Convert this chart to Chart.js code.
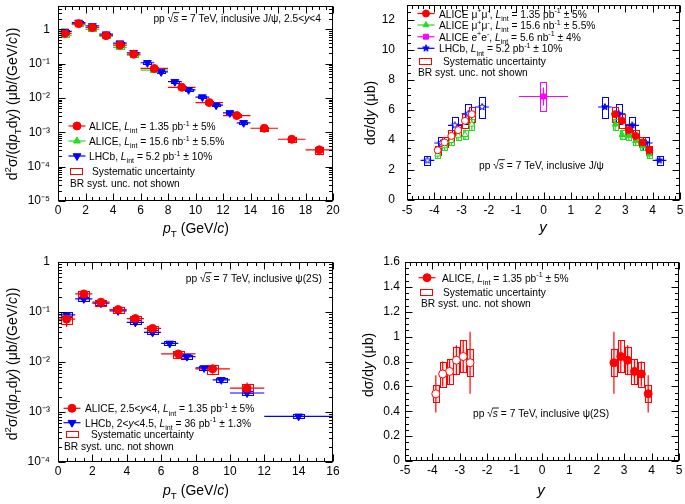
<!DOCTYPE html>
<html><head><meta charset="utf-8">
<script src="https://cdn.jsdelivr.net/npm/chart.js@4.4.1/dist/chart.umd.min.js"></script>
<style>
html,body{margin:0;padding:0;background:#fff;width:685px;height:504px;overflow:hidden}
canvas{position:absolute}
</style></head><body>
<canvas id="c1" width="342" height="252" style="left:0;top:0;width:342px;height:252px"></canvas>
<canvas id="c2" width="343" height="252" style="left:342px;top:0;width:343px;height:252px"></canvas>
<canvas id="c3" width="342" height="252" style="left:0;top:252px;width:342px;height:252px"></canvas>
<canvas id="c4" width="343" height="252" style="left:342px;top:252px;width:343px;height:252px"></canvas>
<script>
// ================= DATA =================
// Panel 1: inclusive J/psi, d2sigma/dpTdy, 2.5<y<4
const p1TicksX = [0,2,4,6,8,10,12,14,16,18,20];
const p1TicksY = [1e-5,1e-4,1e-3,1e-2,1e-1,1];
const p1AliceX = [0.5,1.5,2.5,3.5,4.5,5.5,7,9,11,13,15,17,19];
const p1AliceXErr = [0.5,0.5,0.5,0.5,0.5,0.5,1,1,1,1,1,1,1];
const p1AliceY = [0.77,1.48,1.14,0.66,0.35,0.19,0.073,0.0206,0.0074,0.0031,0.00132,0.00063,0.00031];
const p1AliceStat = [0.03,0.02,0.02,0.02,0.03,0.03,0.04,0.05,0.06,0.08,0.1,0.15,0.3];
const p1AliceSys = [0.08,0.08,0.08,0.08,0.08,0.08,0.08,0.09,0.1,0.1,0.12,0.15,0.22];
const p1LowX = [0.5,1.5,2.5,3.5,4.5,5.5,7];
const p1LowXErr = [0.5,0.5,0.5,0.5,0.5,0.5,1];
const p1LowY = [0.67,1.39,1.0,0.64,0.30,0.18,0.065];
const p1LowStat = [0.08,0.06,0.06,0.07,0.08,0.1,0.12];
const p1LowSys = [0.09,0.09,0.09,0.09,0.09,0.09,0.1];
const p1LhcbX = [0.5,1.5,2.5,3.5,4.5,5.5,6.5,7.5,8.5,9.5,10.5,11.5,12.5,13.5];
const p1LhcbXErr = [0.5,0.5,0.5,0.5,0.5,0.5,0.5,0.5,0.5,0.5,0.5,0.5,0.5,0.5];
const p1LhcbY = [0.88,1.6,1.27,0.73,0.40,0.21,0.107,0.058,0.030,0.0174,0.0107,0.0062,0.0037,0.0019];
const p1LhcbStat = [0.02,0.02,0.02,0.02,0.02,0.02,0.03,0.03,0.04,0.05,0.06,0.07,0.08,0.1];
const p1LhcbSys = [0.08,0.08,0.08,0.08,0.08,0.08,0.08,0.08,0.08,0.08,0.08,0.08,0.08,0.08];

// Panel 2: inclusive J/psi, dsigma/dy
const p2TicksX = [-5,-4,-3,-2,-1,0,1,2,3,4,5];
const p2TicksY = [0,2,4,6,8,10,12];
const p2AliceX = [2.625,2.875,3.125,3.375,3.625,3.875];
const p2AliceY = [5.72,5.28,4.66,4.27,3.84,3.32];
const p2AliceStat = [0.12,0.1,0.09,0.08,0.08,0.09];
const p2AliceSys = [0.5,0.46,0.4,0.37,0.33,0.29];
const p2LowX = [2.625,2.875,3.125,3.375,3.625,3.875];
const p2LowY = [5.05,4.35,4.3,3.95,3.6,3.05];
const p2LowStat = [0.4,0.35,0.3,0.3,0.3,0.3];
const p2LowSys = [0.35,0.3,0.3,0.28,0.25,0.22];
const p2EeX = [0];
const p2EeY = [6.9];
const p2EeStat = [0.6];
const p2EeSys = [0.95];
const p2LhcbX = [2.25,2.75,3.25,3.75,4.25];
const p2LhcbY = [6.2,5.75,4.98,3.8,2.64];
const p2LhcbStat = [0.05,0.05,0.05,0.05,0.05];
const p2LhcbSys = [0.7,0.65,0.55,0.42,0.3];

// Panel 3: inclusive psi(2S), d2sigma/dpTdy
const p3TicksX = [0,2,4,6,8,10,12,14,16];
const p3TicksY = [1e-4,1e-3,1e-2,1e-1,1];
const p3AliceX = [0.5,1.5,2.5,3.5,4.5,5.5,7,9,11];
const p3AliceXErr = [0.5,0.5,0.5,0.5,0.5,0.5,1,1,1];
const p3AliceY = [0.072,0.23,0.157,0.112,0.074,0.047,0.0145,0.0073,0.0030];
const p3AliceStat = [0.3,0.12,0.08,0.08,0.08,0.1,0.18,0.2,0.3];
const p3AliceSys = [0.18,0.15,0.13,0.13,0.13,0.13,0.15,0.2,0.2];
const p3LhcbX = [0.5,1.5,2.5,3.5,4.5,5.5,6.5,7.5,8.5,9.5,11,14];
const p3LhcbXErr = [0.5,0.5,0.5,0.5,0.5,0.5,0.5,0.5,0.5,0.5,1,2];
const p3LhcbY = [0.088,0.183,0.15,0.105,0.062,0.039,0.0235,0.0128,0.0076,0.0044,0.0024,0.00082];
const p3LhcbStat = [0.05,0.03,0.03,0.03,0.03,0.04,0.04,0.05,0.05,0.06,0.08,0.1];
const p3LhcbSys = [0.12,0.1,0.1,0.1,0.1,0.1,0.1,0.1,0.1,0.1,0.1,0.1];

// Panel 4: inclusive psi(2S), dsigma/dy
const p4TicksX = [-5,-4,-3,-2,-1,0,1,2,3,4,5];
const p4TicksY = [0,0.2,0.4,0.6,0.8,1,1.2,1.4,1.6];
const p4AliceX = [2.625,2.875,3.125,3.375,3.625,3.875];
const p4AliceY = [0.79,0.84,0.81,0.72,0.70,0.54];
const p4AliceStat = [0.25,0.13,0.12,0.1,0.1,0.15];
const p4AliceSys = [0.11,0.13,0.11,0.1,0.1,0.07];

// ================= HELPERS =================
const FONT = "'Liberation Sans', Arial, Helvetica, sans-serif";
const RED='#ff0000', GREEN='#22dd22', BLUE='#0000ff', MAG='#ff00ff';
const SUP = {'-':'\u207B','0':'\u2070','1':'\u00B9','2':'\u00B2','3':'\u00B3','4':'\u2074','5':'\u2075','6':'\u2076','7':'\u2077','8':'\u2078','9':'\u2079'};
function logLabel(v){ const e=Math.round(Math.log10(v)); if(e===0) return '1'; if(e===1) return '10'; return '10'+String(e).split('').map(c=>SUP[c]).join(''); }
function linLabel(v){ return String(v); }

function starImg(r, fill, stroke){
  const c=document.createElement('canvas'); const s=Math.ceil(2*r+3); c.width=s; c.height=s;
  const g=c.getContext('2d'); g.beginPath();
  for(let i=0;i<10;i++){ const ang=-Math.PI/2+i*Math.PI/5; const rr=(i%2)?r*0.45:r; g.lineTo(s/2+rr*Math.cos(ang), s/2+rr*Math.sin(ang)); }
  g.closePath(); g.fillStyle=fill; g.fill(); g.strokeStyle=stroke; g.lineWidth=1; g.stroke();
  return c;
}

function series(xs, ys, o){
  return Object.assign({type:'scatter', data: xs.map((x,i)=>({x:x, y:ys[i]})), showLine:false, pointBorderWidth:1}, o);
}
function mirror(a){ return a.map(v=>-v); }

function parseRich(s){
  const segs=[]; let it=false; let cur='';
  const push=(t,mode,ital,ov)=>{ if(t) segs.push({t:t,mode:mode,it:ital,ov:ov}); };
  for(let i=0;i<s.length;i++){
    const c=s[i];
    if(c==='$'){ push(cur,'n',it); cur=''; it=!it; continue; }
    if((c==='_'||c==='^'||c==='!') && s[i+1]==='{'){
      push(cur,'n',it); cur='';
      const j=s.indexOf('}',i+2); const t=s.slice(i+2,j);
      if(c==='!') push(t,'n',true,true); else push(t,c==='_'?'sub':'sup',false);
      i=j; continue;
    }
    cur+=c;
  }
  push(cur,'n',it);
  return segs;
}
function rfont(g,size){ const sz=g.mode==='n'?size:size*0.7; return (g.it?'italic ':'')+sz.toFixed(1)+'px '+FONT; }
function drawRich(ctx,str,x,y,size,align,sx){
  sx = sx || 1;
  const segs=parseRich(str); ctx.save(); ctx.fillStyle='#000'; ctx.textBaseline='alphabetic'; ctx.textAlign='left';
  let w=0; for(const g of segs){ ctx.font=rfont(g,size); w+=ctx.measureText(g.t).width; }
  w*=sx;
  let x0 = align==='center'? x-w/2 : (align==='right'? x-w : x);
  ctx.translate(x0,y); ctx.scale(sx,1);
  let cx=0;
  const base=size*0.36;
  for(const g of segs){
    ctx.font=rfont(g,size);
    const dy = g.mode==='sub'? size*0.28 : (g.mode==='sup'? -size*0.4 : 0);
    ctx.fillText(g.t,cx,base+dy);
    const gw=ctx.measureText(g.t).width;
    if(g.ov){ ctx.fillRect(cx-0.5, base-size*0.86, gw+1.5, 0.9); }
    cx+=gw;
  }
  ctx.restore();
}
const TS=11.5, TSX=0.89;

// ================= PANEL DECORATION CONFIG (page coordinates) =================
const PANELS = {
  c1:{ ox:0, oy:0, xMin:0, xMax:20, xMajor:2, xMinor:0.5, yLog:true,
    texts:[{t:'pp \u221A!{s} = 7 TeV, inclusive J/\u03C8, 2.5<$y$<4', x:321, y:18, a:'right'},
           {t:'BR syst. unc. not shown', x:70, y:183, a:'left'}],
    legend:[{ds:0, x:77, y:126, t:'ALICE, $L$_{int} = 1.35 pb^{-1} \u00B1 5%', tx:89},
            {ds:1, x:77, y:141, t:'ALICE, $L$_{int} = 15.6 nb^{-1} \u00B1 5.5%', tx:89},
            {ds:2, x:77, y:156, t:'LHCb, $L$_{int} = 5.2 pb^{-1} \u00B1 10%', tx:89},
            {box:RED, x:76, y:171, t:'Systematic uncertainty', tx:92}],
    xTitle:{t:'$p$_{T} (GeV/$c$)', x:196, y:228, s:14},
    yTitle:{t:'d^{2}\u03C3/(d$p$_{T}dy) (\u03BCb/(GeV/$c$))', x:12, y:104, s:14} },
  c2:{ ox:342, oy:0, xMin:-5, xMax:5, xMajor:1, xMinor:0.2, yMin:0, yMax:13, yMajor:2, yMinor:0.5,
    texts:[{t:'pp \u221A!{s} = 7 TeV, inclusive J/\u03C8', x:479, y:165, a:'left'},
           {t:'BR syst. unc. not shown', x:418, y:72, a:'left'}],
    legend:[{ds:0, x:426, y:13.5, t:'ALICE \u03BC^{+}\u03BC^{-}, $L$_{int} = 1.35 pb^{-1} \u00B1 5%', tx:439},
            {ds:2, x:426, y:25, t:'ALICE \u03BC^{+}\u03BC^{-}, $L$_{int} = 15.6 nb^{-1} \u00B1 5.5%', tx:439},
            {ds:4, x:426, y:36.7, t:'ALICE e^{+}e^{-}, $L$_{int} = 5.6 nb^{-1} \u00B1 4%', tx:439},
            {ds:5, x:426, y:48.3, t:'LHCb, $L$_{int} = 5.2 pb^{-1} \u00B1 10%', tx:439},
            {box:RED, x:425, y:61, t:'Systematic uncertainty', tx:443}],
    xTitle:{t:'$y$', x:543, y:227, s:15},
    yTitle:{t:'d\u03C3/d$y$ (\u03BCb)', x:370, y:113, s:14} },
  c3:{ ox:0, oy:252, xMin:0, xMax:16, xMajor:2, xMinor:0.5, yLog:true,
    texts:[{t:'pp \u221A!{s} = 7 TeV, inclusive \u03C8(2S)', x:322, y:278, a:'right'},
           {t:'BR syst. unc. not shown', x:64, y:446, a:'left'}],
    legend:[{ds:0, x:72, y:408.3, t:'ALICE, 2.5<$y$<4, $L$_{int} = 1.35 pb^{-1} \u00B1 5%', tx:85},
            {ds:1, x:72, y:422.7, t:'LHCb, 2<$y$<4.5, $L$_{int} = 36 pb^{-1} \u00B1 1.3%', tx:85},
            {box:RED, x:72, y:434.3, t:'Systematic uncertainty', tx:91}],
    xTitle:{t:'$p$_{T} (GeV/$c$)', x:196, y:490, s:14},
    yTitle:{t:'d^{2}\u03C3/(d$p$_{T}d$y$) (\u03BCb/(GeV/$c$))', x:12, y:364, s:14} },
  c4:{ ox:342, oy:252, xMin:-5, xMax:5, xMajor:1, xMinor:0.2, yMin:0, yMax:1.6, yMajor:0.2, yMinor:0.05,
    texts:[{t:'pp \u221A!{s} = 7 TeV, inclusive \u03C8(2S)', x:473, y:413.3, a:'left'},
           {t:'BR syst. unc. not shown', x:421, y:303.3, a:'left'}],
    legend:[{ds:0, x:427, y:277.7, t:'ALICE, $L$_{int} = 1.35 pb^{-1} \u00B1 5%', tx:442},
            {box:RED, x:426, y:291.7, t:'Systematic uncertainty', tx:443}],
    xTitle:{t:'$y$', x:541, y:490, s:15},
    yTitle:{t:'d\u03C3/d$y$ (\u03BCb)', x:368, y:365, s:14} }
};

// ================= PLUGIN =================
function drawErrors(chart){
  const ctx=chart.ctx, xs=chart.scales.x, ys=chart.scales.y, a=chart.chartArea;
  const dsets=chart.data.datasets;
  ctx.save(); ctx.beginPath(); ctx.rect(a.left,a.top,a.right-a.left,a.bottom-a.top); ctx.clip();
  ctx.lineWidth=1;
  for(let k=dsets.length-1;k>=0;k--){
    const ds=dsets[k]; if(!ds.sys) continue; const col=ds.errColor;
    ds.data.forEach((p,i)=>{
      const s=ds.sys[i];
      const lo=ds.rel? p.y*(1-s) : p.y-s, hi=ds.rel? p.y*(1+s) : p.y+s;
      const x0=xs.getPixelForValue(p.x-ds.boxW), x1=xs.getPixelForValue(p.x+ds.boxW);
      const y0=ys.getPixelForValue(hi), y1=ys.getPixelForValue(lo);
      if(ds.boxFill){ ctx.fillStyle=ds.boxFill; ctx.fillRect(x0,y0,x1-x0,y1-y0); }
      ctx.strokeStyle=col; ctx.strokeRect(Math.round(x0)+0.5,Math.round(y0)+0.5,Math.round(x1-x0),Math.round(y1-y0));
    });
  }
  for(let k=dsets.length-1;k>=0;k--){
    const ds=dsets[k]; const col=ds.errColor;
    ctx.strokeStyle=col; ctx.lineWidth=1.2;
    ds.data.forEach((p,i)=>{
      const px=xs.getPixelForValue(p.x), py=ys.getPixelForValue(p.y);
      ctx.beginPath();
      if(ds.xErr){ const e=ds.xErr[i]; ctx.moveTo(xs.getPixelForValue(p.x-e),py); ctx.lineTo(xs.getPixelForValue(p.x+e),py); }
      if(ds.stat){ const s=ds.stat[i]; const lo=ds.rel? p.y*(1-s) : p.y-s, hi=ds.rel? p.y*(1+s) : p.y+s;
        ctx.moveTo(px,ys.getPixelForValue(lo)); ctx.lineTo(px,ys.getPixelForValue(hi)); }
      ctx.stroke();
    });
  }
  ctx.restore();
}
function drawDeco(chart,P){
  const ctx=chart.ctx, a=chart.chartArea, xs=chart.scales.x, ys=chart.scales.y;
  ctx.save();
  ctx.strokeStyle='#000'; ctx.lineWidth=1;
  const L=Math.round(a.left)+0.5, R=Math.round(a.right)-0.5, T=Math.round(a.top)+0.5, B=Math.round(a.bottom)-0.5;
  ctx.strokeRect(L,T,R-L,B-T);
  const seg=(x0,y0,x1,y1)=>{ ctx.beginPath(); ctx.moveTo(x0,y0); ctx.lineTo(x1,y1); ctx.stroke(); };
  const xt=(v,len)=>{ const p=Math.round(xs.getPixelForValue(v))+0.5; seg(p,B,p,B-len); seg(p,T,p,T+len); };
  const yt=(v,len)=>{ const p=Math.round(ys.getPixelForValue(v))+0.5; seg(L,p,L+len,p); seg(R,p,R-len,p); };
  const nx=Math.round((P.xMax-P.xMin)/P.xMinor);
  for(let i=0;i<=nx;i++){ const v=P.xMin+i*P.xMinor; const r=v/P.xMajor; xt(v, Math.abs(r-Math.round(r))<1e-6?7:3.5); }
  if(P.yLog){
    const e0=Math.floor(Math.log10(ys.min)), e1=Math.ceil(Math.log10(ys.max));
    for(let e=e0;e<=e1;e++) for(let k=1;k<10;k++){ const v=k*Math.pow(10,e); if(v<ys.min*0.999||v>ys.max*1.001) continue; yt(v,k===1?7:3.5); }
  } else {
    const ny=Math.round((P.yMax-P.yMin)/P.yMinor);
    for(let i=0;i<=ny;i++){ const v=P.yMin+i*P.yMinor; const r=v/P.yMajor; yt(v, Math.abs(r-Math.round(r))<1e-6?7:3.5); }
  }
  ctx.translate(-P.ox,-P.oy);
  for(const t of P.texts) drawRich(ctx,t.t,t.x,t.y,TS,t.a,TSX);
  for(const g of P.legend){
    if(g.box){
      ctx.strokeStyle=g.box; ctx.lineWidth=1; ctx.strokeRect(Math.round(g.x-6)+0.5,Math.round(g.y-3)+0.5,12,6);
    } else {
      const ds=chart.data.datasets[g.ds];
      ctx.strokeStyle=ds.errColor; ctx.lineWidth=1.2; seg(g.x-8.5,g.y,g.x+8.5,g.y);
      ctx.fillStyle=ds.backgroundColor; ctx.strokeStyle=ds.borderColor; ctx.lineWidth=1;
      Chart.helpers.drawPoint(ctx,{pointStyle:ds.pointStyle, rotation:ds.rotation||0, radius:ds.pointRadius, borderWidth:1}, g.x, g.y);
    }
    drawRich(ctx,g.t,g.tx,g.y,TS,'left',TSX);
  }
  drawRich(ctx,P.xTitle.t,P.xTitle.x,P.xTitle.y,P.xTitle.s,'center');
  ctx.save(); ctx.translate(P.yTitle.x,P.yTitle.y); ctx.rotate(-Math.PI/2);
  drawRich(ctx,P.yTitle.t,0,0,P.yTitle.s,'center'); ctx.restore();
  ctx.restore();
}
Chart.register({ id:'rootDeco',
  beforeDatasetsDraw(chart){ drawErrors(chart); },
  afterDraw(chart){ drawDeco(chart, PANELS[chart.canvas.id]); } });

function axis(type,min,max,ticks,fmt,pad,fixed,isX){
  return { type:type, min:min, max:max,
    grid:{display:false, drawTicks:false}, border:{display:false},
    ticks:{color:'#000', font:{family:FONT,size:12}, padding:pad, autoSkip:false, maxRotation:0, minRotation:0, callback:(v)=>fmt(v)},
    afterBuildTicks:(s)=>{ s.ticks=ticks.map(v=>({value:v})); },
    afterFit:(s)=>{ if(isX){ s.height=fixed; s.paddingLeft=0; s.paddingRight=0; } else { s.width=fixed; s.paddingTop=0; s.paddingBottom=0; } } };
}
function makeChart(id,datasets,xAx,yAx,pad){
  return new Chart(document.getElementById(id),{ type:'scatter', data:{datasets:datasets},
    options:{ responsive:false, animation:false, devicePixelRatio:1,
      layout:{padding:pad},
      plugins:{legend:{display:false}, tooltip:{enabled:false}},
      scales:{x:xAx, y:yAx} } });
}

// ================= CHARTS =================
const openW='#ffffff';
makeChart('c1',[
  series(p1AliceX,p1AliceY,{pointStyle:'circle',pointRadius:4,backgroundColor:RED,borderColor:RED,errColor:RED,xErr:p1AliceXErr,stat:p1AliceStat,sys:p1AliceSys,rel:true,boxW:0.3}),
  series(p1LowX,p1LowY,{pointStyle:'triangle',pointRadius:4,backgroundColor:GREEN,borderColor:GREEN,errColor:GREEN,xErr:p1LowXErr,stat:p1LowStat,sys:p1LowSys,rel:true,boxW:0.3}),
  series(p1LhcbX,p1LhcbY,{pointStyle:'triangle',rotation:180,pointRadius:4.5,backgroundColor:BLUE,borderColor:BLUE,errColor:BLUE,xErr:p1LhcbXErr,stat:p1LhcbStat,sys:p1LhcbSys,rel:true,boxW:0.3})
 ],
 axis('linear',0,20,p1TicksX,linLabel,2,51,true),
 axis('logarithmic',1e-5,5,p1TicksY,logLabel,8,58,false),
 {left:0,right:9,top:2,bottom:0});

makeChart('c2',[
  series(p2AliceX,p2AliceY,{pointStyle:'circle',pointRadius:3.5,backgroundColor:RED,borderColor:RED,errColor:RED,stat:p2AliceStat,sys:p2AliceSys,boxW:0.11}),
  series(mirror(p2AliceX),p2AliceY,{pointStyle:'circle',pointRadius:3.5,backgroundColor:openW,borderColor:RED,errColor:RED,stat:p2AliceStat,sys:p2AliceSys,boxW:0.11}),
  series(p2LowX,p2LowY,{pointStyle:'triangle',pointRadius:3.5,backgroundColor:GREEN,borderColor:GREEN,errColor:GREEN,stat:p2LowStat,sys:p2LowSys,boxW:0.09}),
  series(mirror(p2LowX),p2LowY,{pointStyle:'triangle',pointRadius:3.5,backgroundColor:openW,borderColor:GREEN,errColor:GREEN,stat:p2LowStat,sys:p2LowSys,boxW:0.09}),
  series(p2EeX,p2EeY,{pointStyle:'rect',pointRadius:3.5,backgroundColor:MAG,borderColor:MAG,errColor:MAG,xErr:[0.9],stat:p2EeStat,sys:p2EeSys,boxW:0.11}),
  series(p2LhcbX,p2LhcbY,{pointStyle:starImg(3.5,BLUE,BLUE),pointRadius:3.5,backgroundColor:BLUE,borderColor:BLUE,errColor:BLUE,xErr:[0.25,0.25,0.25,0.25,0.25],stat:p2LhcbStat,sys:p2LhcbSys,boxW:0.11}),
  series(mirror(p2LhcbX),p2LhcbY,{pointStyle:starImg(3.5,'#ffffff',BLUE),pointRadius:3.5,backgroundColor:openW,borderColor:BLUE,errColor:BLUE,xErr:[0.25,0.25,0.25,0.25,0.25],stat:p2LhcbStat,sys:p2LhcbSys,boxW:0.11})
 ],
 axis('linear',-5,5,p2TicksX,linLabel,3,52,true),
 axis('linear',0,13,p2TicksY,linLabel,12,65,false),
 {left:0,right:5,top:1,bottom:0});

makeChart('c3',[
  series(p3AliceX,p3AliceY,{pointStyle:'circle',pointRadius:4,backgroundColor:RED,borderColor:RED,errColor:RED,xErr:p3AliceXErr,stat:p3AliceStat,sys:p3AliceSys,rel:true,boxW:0.32,boxFill:'rgba(255,0,0,0.08)'}),
  series(p3LhcbX,p3LhcbY,{pointStyle:'triangle',rotation:180,pointRadius:4.5,backgroundColor:BLUE,borderColor:BLUE,errColor:BLUE,xErr:p3LhcbXErr,stat:p3LhcbStat,sys:p3LhcbSys,rel:true,boxW:0.32,boxFill:'rgba(0,0,255,0.08)'})
 ],
 axis('linear',0,16,p3TicksX,linLabel,2,42,true),
 axis('logarithmic',1e-4,1,p3TicksY,logLabel,8,58,false),
 {left:0,right:9,top:10,bottom:0});

makeChart('c4',[
  series(p4AliceX,p4AliceY,{pointStyle:'circle',pointRadius:4,backgroundColor:RED,borderColor:RED,errColor:RED,stat:p4AliceStat,sys:p4AliceSys,boxW:0.11,boxFill:'rgba(255,0,0,0.08)'}),
  series(mirror(p4AliceX),p4AliceY,{pointStyle:'circle',pointRadius:4,backgroundColor:openW,borderColor:RED,errColor:RED,stat:p4AliceStat,sys:p4AliceSys,boxW:0.11,boxFill:'rgba(255,0,0,0.08)'})
 ],
 axis('linear',-5,5,p4TicksX,linLabel,2,43,true),
 axis('linear',0,1.6,p4TicksY,linLabel,5,63,false),
 {left:0,right:6,top:10,bottom:0});
</script></body></html>
